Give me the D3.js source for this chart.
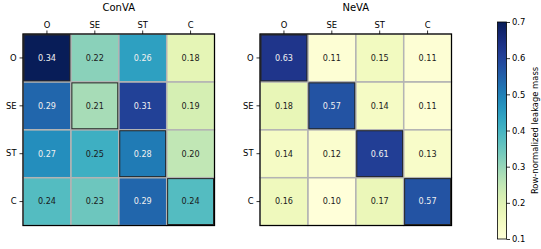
<!DOCTYPE html>
<html>
<head>
<meta charset="utf-8">
<script src="https://cdn.jsdelivr.net/npm/d3@7"></script>
<style>
    body { margin: 0; background: #fff; }
    text { font-family: "DejaVu Sans", sans-serif; }
    .axis path { display: none; }
    .axis line { stroke: #000; stroke-width: 0.8; }
    .axis text { font-size: 8.4px; fill: #000; }
    .cbAxis path { display: none; }
    .cbAxis line { stroke: #000; stroke-width: 0.8; }
    .cbAxis text { font-size: 8.4px; fill: #000; }
</style>
</head>
<body>
<script>
//heatmap pair with shared colorbar, everything in an iife

(function (){

    //categories for rows and columns
    var categories = ["O", "SE", "ST", "C"];

    //panel titles
    var panelTitles = ["ConVA", "NeVA"];

    //row-normalized leakage values
    var convaValues = [
        [0.34, 0.22, 0.26, 0.18],
        [0.29, 0.21, 0.31, 0.19],
        [0.27, 0.25, 0.28, 0.20],
        [0.24, 0.23, 0.29, 0.24]
    ];
    var nevaValues = [
        [0.63, 0.11, 0.15, 0.11],
        [0.18, 0.57, 0.14, 0.11],
        [0.14, 0.12, 0.61, 0.13],
        [0.16, 0.10, 0.17, 0.57]
    ];

    //colour ranges (conva is normalized on its own range)
    var convaDomain = [0.153, 0.34];
    var nevaDomain = [0.1, 0.7];

    //colorbar ticks
    var cbTicks = [0.1, 0.2, 0.3, 0.4, 0.5, 0.6, 0.7];
    var cbLabel = "Row-normalized leakage mass";

    var width = 541,
        height = 249;

    var svg = d3.select("body")
        .append("svg")
        .attr("width", width)
        .attr("height", height);

    drawPanel(svg, panelTitles[0], convaValues, convaDomain, 23, 34);
    drawPanel(svg, panelTitles[1], nevaValues, nevaDomain, 260, 34);
    drawColorbar(svg);

    function drawPanel(svg, title, values, domain, left, top){
        var size = 191.5;

        var x = d3.scaleBand().domain(categories).range([0, size]);
        var y = d3.scaleBand().domain(categories).range([0, size]);

        var color = d3.scaleSequential(d3.interpolateYlGnBu).domain(domain);

        var g = svg.append("g")
            .attr("transform", "translate(" + left + "," + top + ")");

        //flatten matrix into cells
        var cells = [];
        values.forEach(function(row, i){
            row.forEach(function(v, j){
                cells.push({row: categories[i], col: categories[j], value: v, diag: i === j});
            });
        });

        //cell fills
        g.selectAll(".cell")
            .data(cells)
            .enter()
            .append("rect")
            .attr("class", "cell")
            .attr("x", function(d){ return x(d.col); })
            .attr("y", function(d){ return y(d.row); })
            .attr("width", x.bandwidth())
            .attr("height", y.bandwidth())
            .attr("fill", function(d){ return color(d.value); });

        //light grey grid between cells
        g.selectAll(".grid")
            .data(cells)
            .enter()
            .append("rect")
            .attr("class", "grid")
            .attr("x", function(d){ return x(d.col); })
            .attr("y", function(d){ return y(d.row); })
            .attr("width", x.bandwidth())
            .attr("height", y.bandwidth())
            .attr("fill", "none")
            .attr("stroke", "#b4b4b4")
            .attr("stroke-width", 1.3);

        //dark outline on diagonal cells
        g.selectAll(".diag")
            .data(cells.filter(function(d){ return d.diag; }))
            .enter()
            .append("rect")
            .attr("class", "diag")
            .attr("x", function(d){ return x(d.col) + 1; })
            .attr("y", function(d){ return y(d.row) + 1; })
            .attr("width", x.bandwidth() - 2)
            .attr("height", y.bandwidth() - 2)
            .attr("fill", "none")
            .attr("stroke", "#262626")
            .attr("stroke-width", 1);

        //value labels
        g.selectAll(".val")
            .data(cells)
            .enter()
            .append("text")
            .attr("class", "val")
            .attr("x", function(d){ return x(d.col) + x.bandwidth() / 2; })
            .attr("y", function(d){ return y(d.row) + y.bandwidth() / 2; })
            .attr("dy", "0.35em")
            .attr("text-anchor", "middle")
            .style("font-size", "8.1px")
            .attr("fill", function(d){
                var t = (d.value - domain[0]) / (domain[1] - domain[0]);
                return t > 0.55 ? "#f0f0f0" : "#1a1a1a";
            })
            .text(function(d){ return d.value.toFixed(2); });

        //axes
        g.append("g")
            .attr("class", "axis")
            .call(d3.axisTop(x).tickSize(3.5).tickPadding(3));

        g.append("g")
            .attr("class", "axis")
            .call(d3.axisLeft(y).tickSize(3.5).tickPadding(3));

        //outer frame
        g.append("rect")
            .attr("width", size)
            .attr("height", size)
            .attr("fill", "none")
            .attr("stroke", "#000")
            .attr("stroke-width", 1.2);

        //panel title
        g.append("text")
            .attr("x", size / 2)
            .attr("y", -23.5)
            .attr("text-anchor", "middle")
            .style("font-size", "10px")
            .text(title);
    }

    function drawColorbar(svg){
        var cbLeft = 497.5,
            cbTop = 22,
            cbWidth = 9,
            cbHeight = 217;

        var scale = d3.scaleLinear()
            .domain([nevaDomain[0], nevaDomain[1]])
            .range([cbHeight, 0]);

        var defs = svg.append("defs");
        var grad = defs.append("linearGradient")
            .attr("id", "cbGrad")
            .attr("x1", 0).attr("y1", 1)
            .attr("x2", 0).attr("y2", 0);

        grad.selectAll("stop")
            .data(d3.range(0, 1.0001, 0.05))
            .enter()
            .append("stop")
            .attr("offset", function(d){ return d; })
            .attr("stop-color", function(d){ return d3.interpolateYlGnBu(d); });

        var cb = svg.append("g")
            .attr("transform", "translate(" + cbLeft + "," + cbTop + ")");

        cb.append("rect")
            .attr("width", cbWidth)
            .attr("height", cbHeight)
            .attr("fill", "url(#cbGrad)")
            .attr("stroke", "#000")
            .attr("stroke-width", 0.8);

        cb.append("g")
            .attr("class", "cbAxis")
            .attr("transform", "translate(" + cbWidth + ",0)")
            .call(d3.axisRight(scale).tickValues(cbTicks).tickSize(3.5).tickPadding(2)
                .tickFormat(d3.format(".1f")));

        //rotated colorbar label
        svg.append("text")
            .attr("transform", "translate(537.5," + (cbTop + cbHeight / 2) + ") rotate(-90)")
            .attr("text-anchor", "middle")
            .style("font-size", "8.4px")
            .text(cbLabel);
    }

})();
</script>
</body>
</html>
